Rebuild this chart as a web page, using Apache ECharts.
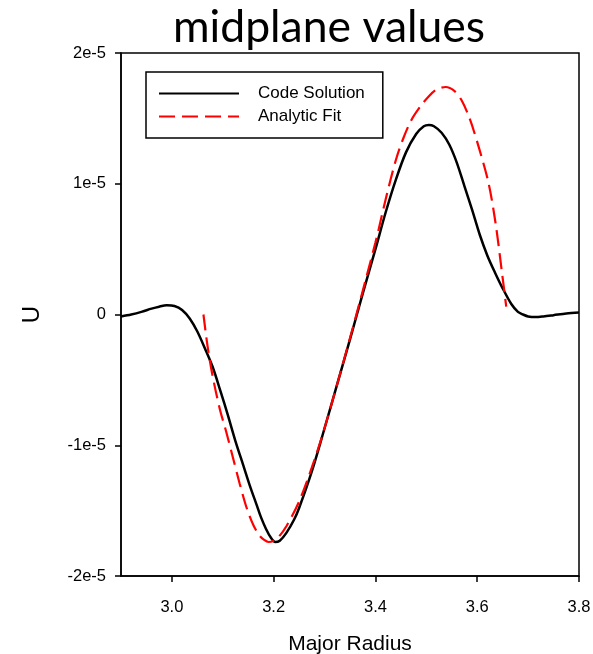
<!DOCTYPE html>
<html>
<head>
<meta charset="utf-8">
<script src="https://cdn.jsdelivr.net/npm/echarts@6/dist/echarts.min.js"></script>
<style>html,body{margin:0;padding:0;background:#fff}#c{width:593px;height:654px}</style>
</head>
<body>
<div id="c"></div>
<script>
// values of U are in units of 1e-5
const codeX = [2.90,2.92,2.94,2.96,2.975,2.99,3.005,3.02,3.035,3.05,3.065,3.08,3.095,3.11,3.125,3.14,3.155,3.166,3.175,3.185,3.195,3.203,3.212,3.225,3.24,3.25,3.275,3.30,3.325,3.35,3.375,3.40,3.42,3.44,3.46,3.48,3.495,3.505,3.515,3.53,3.545,3.56,3.575,3.59,3.605,3.62,3.635,3.65,3.667,3.68,3.69,3.70,3.715,3.73,3.75,3.775,3.80];
const codeY = [-0.015,0.0,0.02,0.045,0.06,0.07,0.065,0.035,-0.03,-0.13,-0.26,-0.40,-0.58,-0.77,-0.97,-1.15,-1.33,-1.45,-1.55,-1.64,-1.71,-1.74,-1.73,-1.67,-1.57,-1.48,-1.20,-0.87,-0.53,-0.19,0.16,0.50,0.78,1.03,1.24,1.38,1.44,1.45,1.44,1.39,1.30,1.16,0.98,0.80,0.61,0.45,0.32,0.20,0.08,0.02,0.0,-0.015,-0.02,-0.015,-0.005,0.008,0.015];
const fitX = [3.062,3.07,3.08,3.094,3.107,3.119,3.133,3.147,3.16,3.172,3.18,3.19,3.20,3.21,3.225,3.25,3.275,3.30,3.35,3.40,3.42,3.44,3.455,3.471,3.488,3.505,3.52,3.538,3.555,3.569,3.585,3.603,3.622,3.636,3.648,3.657];
const fitY = [0.0,-0.24,-0.47,-0.72,-0.90,-1.08,-1.29,-1.48,-1.61,-1.69,-1.72,-1.74,-1.73,-1.70,-1.62,-1.43,-1.17,-0.87,-0.18,0.55,0.88,1.18,1.35,1.49,1.59,1.67,1.72,1.74,1.71,1.64,1.50,1.28,1.01,0.70,0.34,0.06];
const yTicks = ['-2e-5','-1e-5','0','1e-5','2e-5'];
const xTicks = ['3.0','3.2','3.4','3.6','3.8'];

const zip = (xs, ys) => xs.map((x, i) => [x, ys[i]]);
const chart = echarts.init(document.getElementById('c'));
const font = '"Liberation Sans", Arial, sans-serif';
chart.setOption({
  animation: false,
  title: {
    text: 'midplane values', left: 324, top: 0, textAlign: 'center',
    textStyle: { fontFamily: 'Lato, "Open Sans", sans-serif', fontSize: 44.5, fontWeight: 'normal', color: '#000' }
  },
  legend: {
    orient: 'vertical', left: 146, top: 72,
    borderColor: '#000', borderWidth: 1.5, padding: [13, 18, 13, 12],
    itemWidth: 80, itemHeight: 15, itemGap: 6,
    itemStyle: { opacity: 0 },
    textStyle: { fontFamily: font, fontSize: 17, color: '#000', padding: [0, 0, 0, 14] },
    data: ['Code Solution', 'Analytic Fit']
  },
  grid: { left: 121, right: 14, top: 53, bottom: 78, outerBoundsMode: 'none', containLabel: false,
    show: true, borderColor: '#000', borderWidth: 1.5, backgroundColor: 'transparent' },
  xAxis: {
    type: 'value', min: 2.9, max: 3.8,
    name: 'Major Radius', nameLocation: 'middle', nameGap: 58,
    nameTextStyle: { fontFamily: font, fontSize: 21, color: '#000' },
    axisLine: { show: true, onZero: false, lineStyle: { color: '#000', width: 1.5 } },
    axisTick: { show: true, inside: false, length: 6, lineStyle: { color: '#000', width: 1.5 },
      customValues: xTicks.map(Number) },
    axisLabel: { fontFamily: font, fontSize: 16.5, color: '#000', margin: 23,
      customValues: xTicks.map(Number), formatter: v => v.toFixed(1) },
    splitLine: { show: false }
  },
  yAxis: {
    type: 'value', min: -2, max: 2, interval: 1,
    name: 'U', nameLocation: 'middle', nameGap: 77,
    nameTextStyle: { fontFamily: font, fontSize: 24, color: '#000' },
    axisLine: { show: true, onZero: false, lineStyle: { color: '#000', width: 1.5 } },
    axisTick: { show: true, inside: false, length: 6, lineStyle: { color: '#000', width: 1.5 } },
    axisLabel: { fontFamily: font, fontSize: 16.5, color: '#000', margin: 15,
      formatter: v => yTicks[Math.round(v) + 2] },
    splitLine: { show: false }
  },
  series: [
    { name: 'Code Solution', type: 'line', data: zip(codeX, codeY), symbol: 'none', smooth: 0.3,
      lineStyle: { color: '#000', width: 2.5 }, itemStyle: { color: '#000' } },
    { name: 'Analytic Fit', type: 'line', data: zip(fitX, fitY), symbol: 'none', smooth: 0.3,
      lineStyle: { color: '#ff0000', width: 2.2, type: [16, 7] }, itemStyle: { color: '#ff0000' } }
  ]
});
</script>
</body>
</html>
